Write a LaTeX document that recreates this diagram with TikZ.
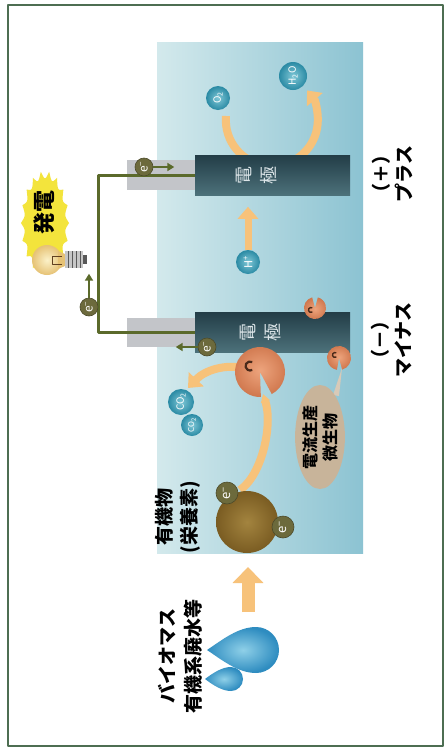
\documentclass[tikz,border=0pt]{standalone}
\usepackage{fontspec}
\setmainfont{Noto Sans CJK JP}
\usetikzlibrary{arrows.meta,shapes.geometric}
\definecolor{frame}{HTML}{4D6E52}
\definecolor{tankL}{HTML}{D3E9EC}
\definecolor{tankR}{HTML}{8CC3D2}
\definecolor{wire}{HTML}{5B6A2B}
\definecolor{eolive}{HTML}{6C6A3C}
\definecolor{flow}{HTML}{F7C27A}
\definecolor{micin}{HTML}{EDA47D}
\definecolor{micout}{HTML}{CF764C}
\definecolor{cmark}{HTML}{4A2A1A}
\definecolor{molin}{HTML}{7FC7D6}
\definecolor{molout}{HTML}{2A8AA4}
\definecolor{orgin}{HTML}{A3843F}
\definecolor{orgout}{HTML}{7A5C22}
\definecolor{bubble}{HTML}{C8B49A}
\definecolor{burst}{HTML}{F3E43C}
\definecolor{glassin}{HTML}{FBF1C8}
\definecolor{glassout}{HTML}{E6C275}
\definecolor{dropin}{HTML}{8FD0E8}
\definecolor{dropout}{HTML}{2E8CC0}
\definecolor{elecT}{HTML}{233D47}
\definecolor{elecB}{HTML}{4C717A}
\definecolor{elecText}{HTML}{DCE5E8}
\definecolor{term}{HTML}{C3C5C9}
\begin{document}
\begin{tikzpicture}[x=1pt, y=1pt, line join=round,
  lbl/.style={rotate=90, align=center, inner sep=0pt, font=\bfseries\fontsize{19}{26}\selectfont},
  electrode/.style={rectangle, minimum width=155pt, minimum height=40pt, inner sep=0pt, top color=elecT, bottom color=elecB},
  electron/.style={circle, minimum size=18pt, inner sep=0pt, fill=eolive, draw=eolive!70!black, line width=0.6pt, text=white, rotate=90, font=\fontsize{12}{12}\selectfont},
  molecule/.style={circle, inner sep=0pt, inner color=molin, outer color=molout, text=white, rotate=90, font=\fontsize{10}{10}\selectfont},
  flowarrow/.style={draw=flow, line width=8pt, -{Triangle[width=20pt,length=12pt]}},
  earrow/.style={draw=wire, line width=2pt, -{Triangle[width=8pt,length=7pt]}}]
\fill[white] (0,0) rectangle (446,-753);
\draw[frame, line width=1.6pt] (8,-5) rectangle (443,-746);
\shade[left color=tankL, right color=tankR] (157,-42) rectangle (363,-553);
% cathode side
\node[molecule, minimum size=24pt] (oxy) at (218,-98) {O\textsubscript{2}};
\node[molecule, minimum size=28pt] (water) at (293,-76) {H\textsubscript{2}O};
\draw[flowarrow] ([shift={(8,-18)}]oxy.center) arc[start angle=175, end angle=400, radius=46];
\node[molecule, minimum size=24pt, font=\fontsize{11}{11}\selectfont] (hion) at (248,-262) {H\textsuperscript{+}};
\draw[flowarrow, line width=7pt] (hion.east) -- ++(0,43);
% electrodes and wire
\fill[term] (127,-160) rectangle (195,-190);
\fill[term] (127,-318) rectangle (195,-347);
\node[electrode] (plus) at (272.5,-175) {};
\node[electrode] (minus) at (272.5,-332) {};
\node[lbl, text=elecText, font=\fontsize{18}{25}\selectfont] (plustxt) at (257,-175) {電\\極};
\node[lbl, text=elecText, font=\fontsize{18}{25}\selectfont] (minustxt) at (261,-332) {電\\極};
\draw[wire, line width=3pt] (plus.west) -- (98,-175) |- (minus.west);
% organic matter to microbe, microbe to CO2
\draw[flowarrow, -{Triangle[width=9pt,length=8pt]}] (240,-490) .. controls (262,-475) and (273,-425) .. (263,-394);
\draw[flowarrow] (245,-368) .. controls (225,-364) and (205,-370) .. (188,-388);
\shade[inner color=micin, outer color=micout] (260,-372) -- ++(-62:25) arc[start angle=-62, end angle=272, radius=25] -- cycle;
\draw[cmark, line width=2.2pt] (250,-366) ++(60:4.5) arc[start angle=60, end angle=300, radius=4.5];
\shade[inner color=micin, outer color=micout] (315,-308) -- ++(105:11) arc[start angle=105, end angle=435, radius=11] -- cycle;
\draw[cmark, line width=1.4pt] (311,-310) ++(60:2.5) arc[start angle=60, end angle=300, radius=2.5];
\shade[inner color=micin, outer color=micout] (339,-358) -- ++(-75:12) arc[start angle=-75, end angle=260, radius=12] -- cycle;
\draw[cmark, line width=1.4pt] (335,-355) ++(60:2.5) arc[start angle=60, end angle=300, radius=2.5];
\node[molecule, minimum size=22pt, font=\fontsize{8}{8}\selectfont] (co2b) at (192,-425) {CO\textsubscript{2}};
\node[molecule, minimum size=26pt] (co2a) at (181,-402) {CO\textsubscript{2}};
\node[circle, minimum size=62pt, inner sep=0pt, inner color=orgin, outer color=orgout] (organic) at (247,-522) {};
\node[electron, minimum size=22pt, font=\fontsize{13}{13}\selectfont] (eorg1) at (227,-493) {e\textsuperscript{−}};
\node[electron, minimum size=22pt, font=\fontsize{13}{13}\selectfont] (eorg2) at (283,-527) {e\textsuperscript{−}};
\fill[bubble!70!white] (333,-395) -- (342,-368) -- (339,-396) -- cycle;
\node[ellipse, fill=bubble, rotate=90, minimum width=104pt, minimum height=46pt, inner sep=0pt, align=center, font=\bfseries\fontsize{16}{20}\selectfont] (talk) at (320,-437) {電流生産\\微生物};
% electrons on the circuit
\node[electron] (eplus) at (144,-167) {e\textsuperscript{−}};
\draw[earrow] (eplus.south) -- ++(21,0);
\node[electron] (eload) at (89,-307) {e\textsuperscript{−}};
\draw[earrow] (eload.east) -- ++(0,24);
\node[electron] (eminus) at (207,-347) {e\textsuperscript{−}};
\draw[earrow] (eminus.north) -- ++(-22,0);
% lamp
\fill[burst] plot[variable=\t, domain=0:360, samples=361] ({45+24*cos(\t)*(1-0.14*abs(sin(9*\t)))}, {-223+52*sin(\t)*(1-0.14*abs(sin(9*\t)))}) -- cycle;
\node[lbl, font=\bfseries\fontsize{22}{24}\selectfont] (hatsuden) at (44,-212) {発電};
\shade[inner color=glassin, outer color=glassout] (47,-260) circle[radius=15];
\fill[glassout] (58,-251) -- (65,-254) -- (65,-266) -- (58,-269) -- cycle;
\fill[gray!45] (65,-251) rectangle (83,-268);
\foreach \x in {68,72,76,80} \draw[gray!70!black, line width=0.8pt] (\x,-251) -- (\x,-268);
\fill[gray!70!black] (83,-255) rectangle (87,-264);
\draw[brown!50!black, line width=0.7pt] (62,-256) -- (52,-256) -- (52,-264) -- (62,-264);
% input
\draw[flow, line width=13pt, -{Triangle[width=30pt,length=16pt]}] (248,-612) -- (248,-567);
\shade[inner color=dropin, outer color=dropout] (207,-650) .. controls (222,-640) and (238,-627) .. (256,-627) arc[start angle=90, end angle=-90, radius=23] .. controls (238,-673) and (222,-660) .. (207,-650) -- cycle;
\shade[inner color=dropin, outer color=dropout] (205,-679) .. controls (213,-673) and (222,-667) .. (231,-667) arc[start angle=90, end angle=-90, radius=12] .. controls (222,-691) and (213,-685) .. (205,-679) -- cycle;
% labels
\node[lbl] (biomass) at (180,-656) {バイオマス\\有機系廃水等};
\node[lbl, font=\bfseries\fontsize{19}{25}\selectfont] (nutrient) at (178,-517) {有機物\\(栄養素)};
\node[lbl, font=\bfseries\fontsize{19}{23}\selectfont] (pluslbl) at (392,-174) {（＋）\\プラス};
\node[lbl, font=\bfseries\fontsize{19}{23}\selectfont] (minuslbl) at (392,-340) {（－）\\マイナス};
\end{tikzpicture}
\end{document}
